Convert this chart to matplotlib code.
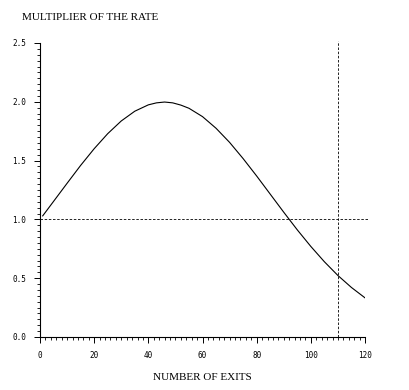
import matplotlib
matplotlib.use("Agg")
import matplotlib.pyplot as plt
from matplotlib.ticker import MultipleLocator, FormatStrFormatter

# Data
exits = [1, 5, 10, 15, 20, 25, 30, 35, 40, 43, 46, 49, 52, 55, 60, 65, 70,
         75, 80, 85, 90, 95, 100, 105, 110, 115, 120]
multiplier = [1.030, 1.153, 1.307, 1.459, 1.601, 1.729, 1.837, 1.920, 1.974,
              1.991, 1.998, 1.991, 1.972, 1.945, 1.874, 1.775, 1.655, 1.517,
              1.369, 1.215, 1.061, 0.911, 0.770, 0.640, 0.523, 0.421, 0.333]
ref_level = 1.0
ref_exits = 110
x_ticks = [0, 20, 40, 60, 80, 100, 120]
y_ticks = [0.0, 0.5, 1.0, 1.5, 2.0, 2.5]

fig = plt.figure(figsize=(4.09, 3.90), dpi=100)
ax = fig.add_axes([40/409, 1-337/390, 325/409, 294/390])

ax.plot(exits, multiplier, color="black", lw=0.8)
ax.plot([0, 121], [ref_level, ref_level], color="black", lw=0.6,
        ls=(0, (3, 2)), clip_on=False)
ax.plot([ref_exits, ref_exits], [0, 2.52], color="black", lw=0.6,
        ls=(0, (3, 2)), clip_on=False)

ax.set_xlim(0, 120)
ax.set_ylim(0, 2.5)
for s in ["top", "right"]:
    ax.spines[s].set_visible(False)
for s in ["left", "bottom"]:
    ax.spines[s].set_linewidth(0.8)

ax.set_xticks(x_ticks)
ax.set_yticks(y_ticks)
ax.xaxis.set_minor_locator(MultipleLocator(2))
ax.yaxis.set_minor_locator(MultipleLocator(0.05))
ax.yaxis.set_major_formatter(FormatStrFormatter("%.1f"))
ax.tick_params(which="major", direction="out", length=4, width=0.7,
               labelsize=5.5, pad=6)
ax.tick_params(which="minor", direction="out", length=2, width=0.6)
for lab in ax.get_xticklabels() + ax.get_yticklabels():
    lab.set_family("DejaVu Sans Mono")

fig.text(22/409, 1-18/390, "MULTIPLIER OF THE RATE", family="Liberation Serif",
         fontsize=8, ha="left", va="center")
fig.text(202/409, 1-378/390, "NUMBER OF EXITS", family="Liberation Serif",
         fontsize=8, ha="center", va="center")

fig.savefig("out.png", dpi=100)
